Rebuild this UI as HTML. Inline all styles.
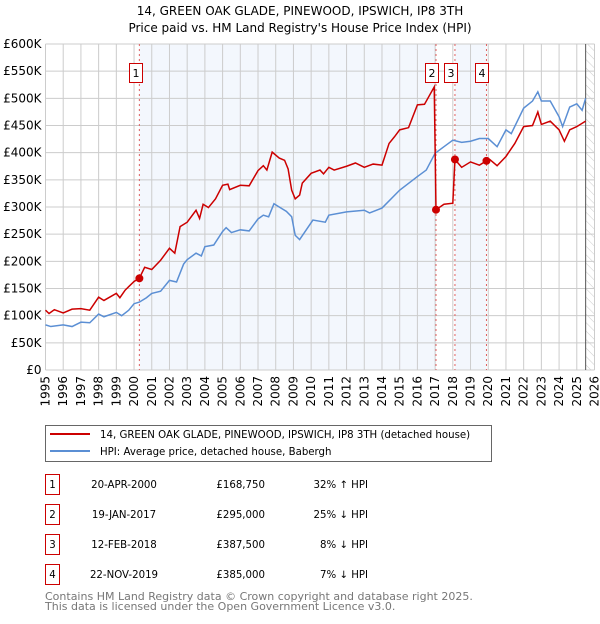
<!DOCTYPE html>
<html><head><meta charset="utf-8">
<style>
body{margin:0;background:#fff;font-family:"DejaVu Sans","Liberation Sans",sans-serif;}
svg text{font-family:"DejaVu Sans","Liberation Sans",sans-serif;}
</style></head>
<body>
<svg id="chart" width="600" height="620" xmlns="http://www.w3.org/2000/svg">
<defs>
<pattern id="hatch" width="6" height="6" patternUnits="userSpaceOnUse" patternTransform="rotate(-45)">
<line x1="0" y1="0" x2="0" y2="6" stroke="#ccc" stroke-width="1"/>
</pattern>
</defs>
<text x="300" y="15" text-anchor="middle" font-size="12" fill="#000">14, GREEN OAK GLADE, PINEWOOD, IPSWICH, IP8 3TH</text>
<text x="300" y="32" text-anchor="middle" font-size="12" fill="#000">Price paid vs. HM Land Registry's House Price Index (HPI)</text>
<g id="plot"></g>
<g id="legend">
<rect x="45.5" y="425.5" width="446" height="36" fill="#fff" stroke="#666"/>
<line x1="50" y1="434" x2="90" y2="434" stroke="#cc0000" stroke-width="2"/>
<text x="100" y="438" font-size="10.2">14, GREEN OAK GLADE, PINEWOOD, IPSWICH, IP8 3TH (detached house)</text>
<line x1="50" y1="451" x2="90" y2="451" stroke="#5b8fd4" stroke-width="2"/>
<text x="100" y="455" font-size="10.2">HPI: Average price, detached house, Babergh</text>
</g>
<g id="table" font-size="10.2"></g>
<text x="45" y="600" font-size="11" fill="#777">Contains HM Land Registry data © Crown copyright and database right 2025.</text>
<text x="45" y="610" font-size="11" fill="#777">This data is licensed under the Open Government Licence v3.0.</text>
</svg>
<script>
const yTicks=[0,50,100,150,200,250,300,350,400,450,500,550,600];
const yLabels=["£0","£50K","£100K","£150K","£200K","£250K","£300K","£350K","£400K","£450K","£500K","£550K","£600K"];
const xYears=[1995,1996,1997,1998,1999,2000,2001,2002,2003,2004,2005,2006,2007,2008,2009,2010,2011,2012,2013,2014,2015,2016,2017,2018,2019,2020,2021,2022,2023,2024,2025,2026];
const hpiT=[1995,1995.3,1996,1996.5,1997,1997.5,1998,1998.3,1999,1999.3,1999.7,2000,2000.3,2000.7,2001,2001.5,2002,2002.4,2002.8,2003,2003.5,2003.8,2004,2004.5,2005,2005.2,2005.5,2006,2006.5,2007,2007.3,2007.6,2007.9,2008.3,2008.6,2008.9,2009.1,2009.35,2010.1,2010.8,2011,2012,2013,2013.3,2014,2015,2016,2016.5,2017,2017.5,2018,2018.5,2019,2019.5,2020,2020.5,2021,2021.3,2022,2022.5,2022.8,2023,2023.5,2024,2024.2,2024.6,2025,2025.3,2025.5];
const hpiV=[83,80,83,80,88,87,103,98,106,100,110,122,125,133,141,145,165,162,195,203,215,210,227,230,255,262,253,258,256,278,285,282,306,298,292,282,248,240,276,272,285,291,294,289,298,331,356,368,399,411,423,419,421,426,426,411,442,435,482,495,512,495,495,466,448,484,490,478,500];
const propT=[1995,1995.2,1995.5,1996,1996.5,1997,1997.5,1998,1998.3,1999,1999.2,1999.5,2000,2000.3,2000.6,2001,2001.5,2002,2002.3,2002.6,2003,2003.5,2003.7,2003.9,2004.2,2004.6,2005,2005.3,2005.4,2006,2006.5,2007,2007.3,2007.5,2007.8,2008.2,2008.5,2008.7,2008.9,2009.1,2009.35,2009.5,2010,2010.5,2010.7,2011,2011.3,2012,2012.5,2013,2013.5,2014,2014.4,2014.7,2015,2015.5,2016,2016.4,2016.95,2017.05,2017.5,2018.0,2018.12,2018.5,2019,2019.5,2019.9,2020.1,2020.5,2021,2021.5,2022,2022.5,2022.8,2023,2023.5,2024,2024.3,2024.6,2025,2025.5];
const propV=[110,104,111,105,112,113,110,134,128,141,133,147,163,169,189,185,202,224,215,264,272,294,279,305,299,315,340,342,332,340,339,367,376,368,401,390,386,370,331,315,322,344,362,368,361,373,368,375,381,373,379,377,417,429,442,446,488,489,521,295,305,307,387.5,373,383,377,385,387,376,393,417,448,450,475,452,458,442,421,442,448,458];
const saleT=[2000.3,2017.05,2018.12,2019.9];
const saleV=[168.75,295,387.5,385];
const saleLabels=["1","2","3","4"];
const saleDates=["20-APR-2000","19-JAN-2017","12-FEB-2018","22-NOV-2019"];
const salePrices=["£168,750","£295,000","£387,500","£385,000"];
const saleHpi=["32% ↑ HPI","25% ↓ HPI","8% ↓ HPI","7% ↓ HPI"];

const X0=45.5,X1=594.5,Y0=370,Y1=44;
const xs=t=>X0+(t-1995)/(2026-1995)*(X1-X0);
const ys=v=>Y0-v/600*(Y0-Y1);
const NS="http://www.w3.org/2000/svg";
function mk(tag,attrs,parent){const e=document.createElementNS(NS,tag);for(const k in attrs)e.setAttribute(k,attrs[k]);parent.appendChild(e);return e;}
const plot=document.getElementById('plot');
for(const [a,b] of [[0,1],[2,3]]){
 const r=mk('rect',{x:xs(saleT[a]),y:Y1,width:xs(saleT[b])-xs(saleT[a]),height:Y0-Y1,fill:'#eef3fc',opacity:0.7},plot);
 
 
}
const hr=mk('rect',{x:xs(2025.5),y:Y1,width:X1-xs(2025.5),height:Y0-Y1,fill:'url(#hatch)'},plot);


yTicks.forEach((v,i)=>{
 const l=mk('line',{x1:X0,x2:X1,y1:ys(v),y2:ys(v),stroke:'#ccc','stroke-width':1},plot);
 
 
 const t=mk('text',{x:X0-4,y:ys(v)+4,'text-anchor':'end','font-size':12},plot);
 t.textContent=yLabels[i];
 
 
});
xYears.forEach(yr=>{
 const l=mk('line',{x1:xs(yr),x2:xs(yr),y1:Y1,y2:Y0,stroke:'#ccc','stroke-width':1},plot);
 
 
 const t=mk('text',{x:0,y:0,'text-anchor':'end','font-size':12,transform:`translate(${xs(yr)+4},${Y0+6}) rotate(-90)`},plot);
 t.textContent=yr;
 
 
});
const vl=mk('line',{x1:xs(2025.5),x2:xs(2025.5),y1:Y1,y2:Y0,stroke:'#555','stroke-width':1},plot);


saleT.forEach(t=>{
 const l=mk('line',{x1:xs(t),x2:xs(t),y1:Y1,y2:Y0,stroke:'#e06060','stroke-width':1,'stroke-dasharray':'2,3'},plot);
 
 
});
const hp=mk('polyline',{points:hpiT.map((t,i)=>xs(t)+','+ys(hpiV[i])).join(' '),fill:'none',stroke:'#5b8fd4','stroke-width':1.5},plot);


const pp=mk('polyline',{points:propT.map((t,i)=>xs(t)+','+ys(propV[i])).join(' '),fill:'none',stroke:'#cc0000','stroke-width':1.5},plot);


saleT.forEach((t,i)=>{
 const c=mk('circle',{cx:xs(t),cy:ys(saleV[i]),r:4,fill:'#cc0000'},plot);
 
 
});
const boxX=[129,425,444,475];
saleLabels.forEach((s,i)=>{
 const r=mk('rect',{x:boxX[i]+0.5,y:63.5,width:13,height:19,fill:'#fff',stroke:'#cc0000'},plot);
 
 
 const t=mk('text',{x:boxX[i]+7,y:77,'text-anchor':'middle','font-size':11},plot);
 t.textContent=s;
 
 
});
const tb=document.getElementById('table');
saleLabels.forEach((s,i)=>{
 const y=483+i*30;
 const r=mk('rect',{x:45.5,y:y-8.5,width:14,height:20,fill:'#fff',stroke:'#cc0000'},tb);
 
 
 const cells=[[52.5,'middle',s],[124,'middle',saleDates[i]],[265,'end',salePrices[i]],[368,'end',saleHpi[i]]];
 cells.forEach(c=>{
  const t=mk('text',{x:c[0],y:y+5,'text-anchor':c[1],'font-size':10.2},tb);
  t.textContent=c[2];
  
  
 });
});
</script>
</body></html>
